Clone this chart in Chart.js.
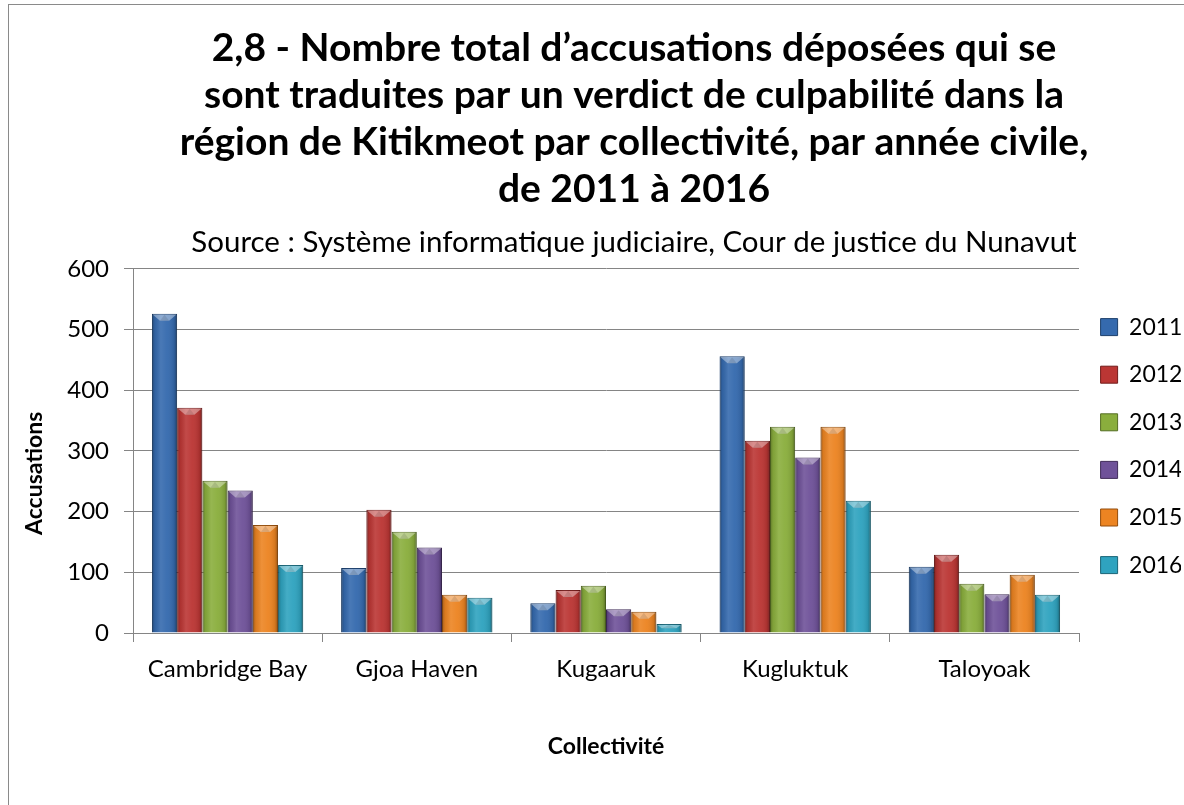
<!DOCTYPE html>
<html>
<head>
<meta charset="utf-8">
<script src="https://cdn.jsdelivr.net/npm/chart.js@4/dist/chart.umd.min.js"></script>
<style>
  html, body { margin: 0; padding: 0; background: #ffffff; }
  #wrap { position: relative; width: 1184px; height: 805px; }
</style>
</head>
<body>
<div id="wrap"><canvas id="c" width="1184" height="805"></canvas></div>
<script>
const categories = ['Cambridge Bay', 'Gjoa Haven', 'Kugaaruk', 'Kugluktuk', 'Taloyoak'];
const years = ['2011', '2012', '2013', '2014', '2015', '2016'];
const v2011 = [526, 107, 49, 456, 109];
const v2012 = [371, 203, 71, 317, 129];
const v2013 = [251, 167, 78, 340, 81];
const v2014 = [235, 141, 39, 289, 64];
const v2015 = [178, 63, 35, 340, 96];
const v2016 = [112, 58, 15, 218, 63];
const yTicks = [0, 100, 200, 300, 400, 500, 600];

const titleLines = [
  '2,8 - Nombre total d\u2019accusations déposées qui se',
  'sont traduites par un verdict de culpabilité dans la',
  'région de Kitikmeot par collectivité, par année civile,',
  'de 2011 à 2016'
];
const subtitleText = 'Source : Système informatique judiciaire, Cour de justice du Nunavut';
const yTitle = 'Accusations';
const xTitle = 'Collectivité';

const fills = ['#356aae', '#bb3634', '#8aae3d', '#6f5299', '#ec8422', '#2fa3bf'];
const borders = ['#1c3f6c', '#721c1b', '#556e24', '#412d5a', '#934d0c', '#1a6577'];

const seriesValues = [v2011, v2012, v2013, v2014, v2015, v2016];
const datasets = years.map((y, i) => ({
  label: y,
  data: seriesValues[i],
  backgroundColor: fills[i],
  borderColor: borders[i],
  borderWidth: 1,
  categoryPercentage: 0.8,
  barPercentage: 1.0
}));

const FONT = 'Lato, Carlito, "Open Sans", sans-serif';

const decor = {
  id: 'decor',
  beforeDraw(chart) {
    const ctx = chart.ctx;
    ctx.save();
    ctx.strokeStyle = '#8a8a8a';
    ctx.lineWidth = 1;
    ctx.strokeRect(8.5, 4.5, 3000, 3000);
    ctx.restore();
  },
  afterLayout(chart) {
    chart.boxes.forEach(b => {
      if (b === chart.titleBlock || (b.options && b.options.text === subtitleText)) {
        b.left = 84;
        b.right = 1184;
      }
    });
    const lg = chart.legend;
    if (lg) {
      const h = lg.height, w = lg.width;
      lg.top = 291;
      lg.bottom = 291 + h;
      lg.left = chart.chartArea.right - 3;
      lg.right = lg.left + w;
    }
  },
  afterDatasetsDraw(chart) {
    const ctx = chart.ctx;
    ctx.save();
    chart.data.datasets.forEach((ds, di) => {
      const meta = chart.getDatasetMeta(di);
      if (meta.hidden) return;
      meta.data.forEach(bar => {
        const w = bar.width;
        const l = bar.x - w / 2, r = bar.x + w / 2;
        const t = Math.min(bar.y, bar.base), b = Math.max(bar.y, bar.base);
        const h = b - t;
        if (h <= 0) return;
        const g = ctx.createLinearGradient(l, 0, r, 0);
        g.addColorStop(0, 'rgba(0,0,0,0.32)');
        g.addColorStop(0.12, 'rgba(0,0,0,0.08)');
        g.addColorStop(0.35, 'rgba(255,255,255,0.10)');
        g.addColorStop(0.6, 'rgba(255,255,255,0.04)');
        g.addColorStop(0.88, 'rgba(0,0,0,0.10)');
        g.addColorStop(1, 'rgba(0,0,0,0.38)');
        ctx.fillStyle = g;
        ctx.fillRect(l + 0.5, t + 0.5, w - 1, h - 1);
        const bev = Math.min(7, h / 2);
        ctx.beginPath();
        ctx.moveTo(l + 1, t + 1);
        ctx.lineTo(r - 1, t + 1);
        ctx.lineTo(r - 1 - bev, t + bev);
        ctx.lineTo(l + 1 + bev, t + bev);
        ctx.closePath();
        ctx.fillStyle = 'rgba(255,255,255,0.38)';
        ctx.fill();
        ctx.beginPath();
        ctx.moveTo(l + 1 + bev, t + bev);
        ctx.lineTo(r - 1 - bev, t + bev);
        ctx.lineTo(bar.x, t + 1);
        ctx.closePath();
        ctx.fillStyle = 'rgba(0,0,0,0.10)';
        ctx.fill();
      });
    });
    ctx.restore();
  }
};

new Chart(document.getElementById('c'), {
  type: 'bar',
  data: { labels: categories, datasets },
  options: {
    responsive: false,
    animation: false,
    events: [],
    layout: { padding: { left: 10, right: 0, top: 0, bottom: 45 } },
    plugins: {
      tooltip: { enabled: false },
      title: {
        display: true,
        text: titleLines,
        color: '#000000',
        font: { family: FONT, size: 39, weight: 'bold', lineHeight: 1.205 },
        padding: { top: 24.5, bottom: 7 }
      },
      subtitle: {
        display: true,
        text: subtitleText,
        color: '#000000',
        font: { family: FONT, size: 29.5, weight: 'normal', lineHeight: 1.18 },
        padding: { top: 6, bottom: 8.6 }
      },
      legend: {
        position: 'right',
        align: 'start',
        maxWidth: 105,
        labels: {
          color: '#000000',
          font: { family: FONT, size: 23 },
          boxWidth: 17,
          boxHeight: 17,
          padding: 24.6
        }
      }
    },
    scales: {
      x: {
        afterFit(s) { s.height = 127; },
        grid: { display: true, drawOnChartArea: false, drawTicks: true, tickLength: 9, color: '#858585', offset: true },
        border: { display: true, color: '#858585', width: 1 },
        ticks: { color: '#000000', font: { family: FONT, size: 24 }, padding: 12.6, maxRotation: 0 },
        title: { display: true, text: xTitle, color: '#000000', font: { family: FONT, size: 23, weight: 'bold' }, padding: { top: 0, bottom: 0 } }
      },
      y: {
        min: 0,
        max: 600,
        afterFit(s) { s.width = 123; },
        afterBuildTicks(s) { s.ticks = yTicks.map(v => ({ value: v })); },
        grid: { display: true, drawOnChartArea: true, drawTicks: true, tickLength: 9, color: '#858585' },
        border: { display: true, color: '#858585', width: 1 },
        ticks: { color: '#000000', font: { family: FONT, size: 24 }, padding: 15 },
        title: { display: true, text: yTitle + '        ', color: '#000000', font: { family: FONT, size: 23, weight: 'bold' }, padding: { top: 11, bottom: 0 } }
      }
    }
  },
  plugins: [decor]
});
</script>
</body>
</html>
